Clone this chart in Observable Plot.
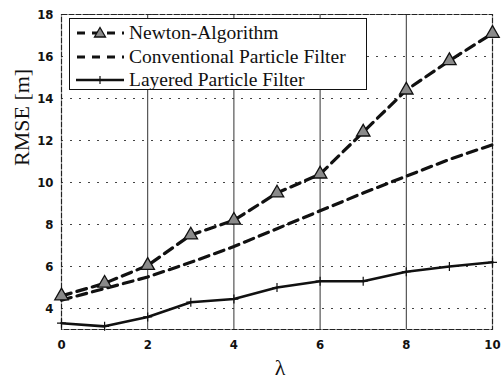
<!DOCTYPE html>
<html>
<head>
<meta charset="utf-8">
<script src="https://cdn.jsdelivr.net/npm/d3@7"></script>
<script src="https://cdn.jsdelivr.net/npm/@observablehq/plot@0.6"></script>
<style>
  html, body { margin: 0; padding: 0; background: #fff; }
  #wrap { position: relative; width: 502px; height: 383px; }
  #legend {
    position: absolute; left: 69px; top: 18px; width: 296px; height: 70px;
    border: 1.5px solid #111; background: #fff;
    font-family: "Liberation Serif", "Times New Roman", serif; font-size: 19.5px; color: #111;
  }
  .row { position: absolute; left: 0; height: 24px; display: flex; align-items: center; }
  .row svg { display: block; }
  .row span { margin-left: 3px; white-space: nowrap; line-height: 24px; }
</style>
</head>
<body>
<div id="wrap"></div>
<script>
const lambda = [0, 1, 2, 3, 4, 5, 6, 7, 8, 9, 10];
const newton = [4.6, 5.2, 6.05, 7.5, 8.2, 9.5, 10.4, 12.4, 14.4, 15.8, 17.1];
const conventional = [4.4, 4.95, 5.5, 6.2, 6.95, 7.8, 8.65, 9.5, 10.3, 11.1, 11.8];
const layered = [3.3, 3.15, 3.6, 4.3, 4.45, 5.0, 5.3, 5.3, 5.75, 6.0, 6.2];
const seriesNames = ["Newton-Algorithm", "Conventional Particle Filter", "Layered Particle Filter"];
const xTicks = [0, 2, 4, 6, 8, 10];
const yTicks = [4, 6, 8, 10, 12, 14, 16, 18];
const xGrid = [2, 4, 6, 8];

const toRows = (arr) => lambda.map((x, i) => ({x, y: arr[i]}));
const dN = toRows(newton), dC = toRows(conventional), dL = toRows(layered);

const tickFont = '"DejaVu Sans Condensed", sans-serif';
const serif = '"Liberation Serif", "Times New Roman", serif';

const chart = Plot.plot({
  width: 502, height: 383,
  marginLeft: 61, marginRight: 10, marginTop: 14, marginBottom: 54,
  x: {domain: [0, 10], label: null},
  y: {domain: [3, 18], label: null},
  style: {background: "#fff", color: "#111"},
  marks: [
    Plot.gridY(yTicks, {stroke: "#444", strokeOpacity: 1, strokeDasharray: "2,7"}),
    Plot.gridX(xGrid, {stroke: "#333", strokeOpacity: 1, strokeWidth: 1}),
    Plot.frame({stroke: "#222", strokeWidth: 1.2, strokeDasharray: "6,1"}),
    Plot.axisX(xTicks, {tickSize: 0, tickPadding: 10, fontSize: 13, fontFamily: tickFont, fontWeight: "bold", label: null}),
    Plot.axisY(yTicks, {tickSize: 0, tickPadding: 8, fontSize: 13, fontFamily: tickFont, fontWeight: "bold", label: null}),
    Plot.line(dC, {x: "x", y: "y", stroke: "#111", strokeWidth: 3.2, strokeDasharray: "10,6"}),
    Plot.line(dN, {x: "x", y: "y", stroke: "#111", strokeWidth: 3.2, strokeDasharray: "10,6"}),
    Plot.dot(dN, {x: "x", y: "y", symbol: "triangle", r: 5, fill: "#8a8a8a", stroke: "#111", strokeWidth: 1.3}),
    Plot.line(dL, {x: "x", y: "y", stroke: "#111", strokeWidth: 2.6}),
    Plot.dot(dL, {x: "x", y: "y", symbol: "plus", r: 3, stroke: "#111", strokeWidth: 1.2}),
    Plot.text(["RMSE [m]"], {frameAnchor: "left", dx: -40, dy: -6, rotate: -90, fontSize: 22, fontFamily: serif, fill: "#111"}),
    Plot.text(["λ"], {frameAnchor: "bottom", dx: 3, dy: 45, fontSize: 22, fontFamily: serif, fill: "#111"})
  ]
});

const wrap = document.getElementById("wrap");
wrap.appendChild(chart);

// Legend overlay
const legend = document.createElement("div");
legend.id = "legend";
const samples = [
  `<svg width="52" height="14"><line x1="2" y1="7" x2="50" y2="7" stroke="#111" stroke-width="3.2" stroke-dasharray="8,7" stroke-dashoffset="-1"/><path d="M26,1.5 L31.5,11 L20.5,11 Z" fill="#8a8a8a" stroke="#111" stroke-width="1.3"/></svg>`,
  `<svg width="52" height="14"><line x1="2" y1="7" x2="50" y2="7" stroke="#111" stroke-width="3.2" stroke-dasharray="8,7" stroke-dashoffset="-1"/></svg>`,
  `<svg width="52" height="14"><line x1="2" y1="7" x2="50" y2="7" stroke="#111" stroke-width="2.6"/><path d="M26,3 V11 M22,7 H30" stroke="#111" stroke-width="1.2"/></svg>`
];
const centers = [14, 38, 61];
seriesNames.forEach((name, i) => {
  const row = document.createElement("div");
  row.className = "row";
  row.style.top = (centers[i] - 12) + "px";
  row.style.left = "4px";
  row.innerHTML = samples[i] + `<span>${name}</span>`;
  legend.appendChild(row);
});
wrap.appendChild(legend);
</script>
</body>
</html>
